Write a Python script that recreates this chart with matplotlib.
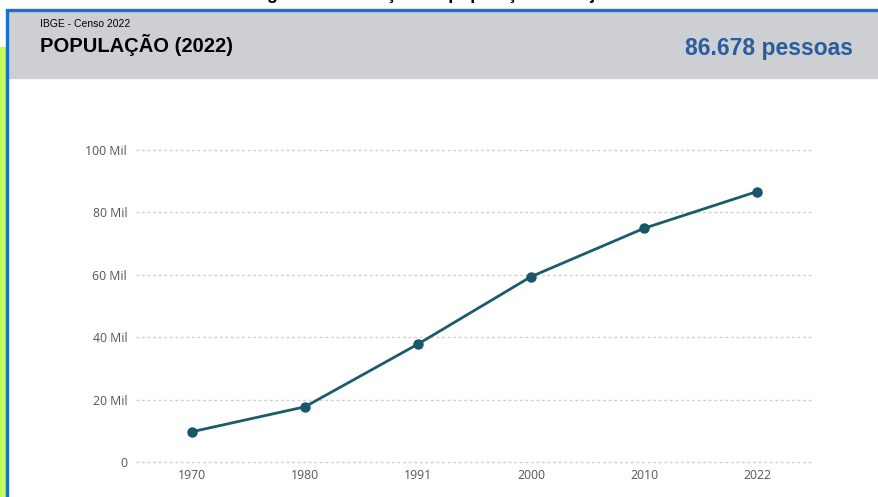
# -*- coding: utf-8 -*-

import matplotlib.pyplot as pyplot
import matplotlib.patches as patches
from matplotlib.ticker import FuncFormatter

anos = ['1970', '1980', '1991', '2000', '2010', '2022']
populacao = [9700, 17700, 37800, 59400, 74900, 86678]
y_ticks = [0, 20000, 40000, 60000, 80000, 100000]

W, H = 879, 497
LINE_COLOR = '#1d5a6c'


def fx(px):
    return px / W


def fy(py):
    return 1 - py / H


def mil_fmt(v, pos):
    if v == 0:
        return '0'
    return '%d Mil' % round(v / 1000)


fig = pyplot.figure(figsize=(W / 100, H / 100), dpi=100)
fig.patch.set_facecolor('white')

# faixa verde e moldura azul à esquerda
fig.patches.append(patches.Rectangle((0, 0), fx(6), fy(47), transform=fig.transFigure,
                                     color='#c6fb5c', zorder=0))
fig.patches.append(patches.Rectangle((fx(6), 0), fx(2), fy(10), transform=fig.transFigure,
                                     color='#1a73c8', zorder=1))
# cabeçalho cinza
fig.patches.append(patches.Rectangle((fx(8), fy(78)), 1 - fx(8), fy(11) - fy(78),
                                     transform=fig.transFigure, color='#cdcfd2', zorder=0))
fig.patches.append(patches.Rectangle((fx(6), fy(11)), 1 - fx(6), fy(9) - fy(11),
                                     transform=fig.transFigure, color='#1a73c8', zorder=1))

# legenda da figura, cortada na borda superior como no original
fig.text(0.5, fy(-1), 'Figura 4 - Evolução da população de Itajubá', ha='center',
         va='baseline', fontsize=13, fontweight='bold', family='Liberation Sans')

fig.text(fx(40), fy(24), 'IBGE - Censo 2022', ha='left', va='center', fontsize=7.5,
         family=['Liberation Sans Narrow', 'Liberation Sans'])
fig.text(fx(40), fy(45), 'POPULAÇÃO (2022)', ha='left', va='center', fontsize=14.5,
         fontweight='bold', family='Liberation Sans')
fig.text(fx(853), fy(48), '86.678 pessoas', ha='right', va='center', fontsize=16.5,
         fontweight='bold', color='#2a5c9e', family='Liberation Sans')

y_top = 104000
px_per = 62.4 / 20000
top_px = 462 - y_top * px_per
axs = fig.add_axes([fx(135.5), fy(462), fx(813.5) - fx(135.5), fy(top_px) - fy(462)])
axs.set_facecolor('white')

xs = list(range(len(anos)))
axs.plot(xs, populacao, color=LINE_COLOR, lw=2, marker='o', ms=6.5,
         markerfacecolor='#17566b', markeredgecolor='#17566b', zorder=3, clip_on=False)

axs.set_xlim(-0.5, len(anos) - 0.5)
axs.set_ylim(0, y_top)
axs.set_xticks(xs)
axs.set_xticklabels(anos)
axs.set_yticks(y_ticks)
axs.yaxis.set_major_formatter(FuncFormatter(mil_fmt))

for v in y_ticks:
    axs.axhline(v, color='#cfcfcf', lw=1, ls=(0, (2, 2)), zorder=1, clip_on=False)

for s in axs.spines.values():
    s.set_visible(False)
axs.tick_params(axis='both', length=0, labelsize=8.8, labelcolor='#555555')
axs.tick_params(axis='y', pad=6)
axs.tick_params(axis='x', pad=5)
for lbl in axs.get_xticklabels() + axs.get_yticklabels():
    lbl.set_family('Open Sans')

fig.savefig('out.png', dpi=100)
pyplot.close(fig)
